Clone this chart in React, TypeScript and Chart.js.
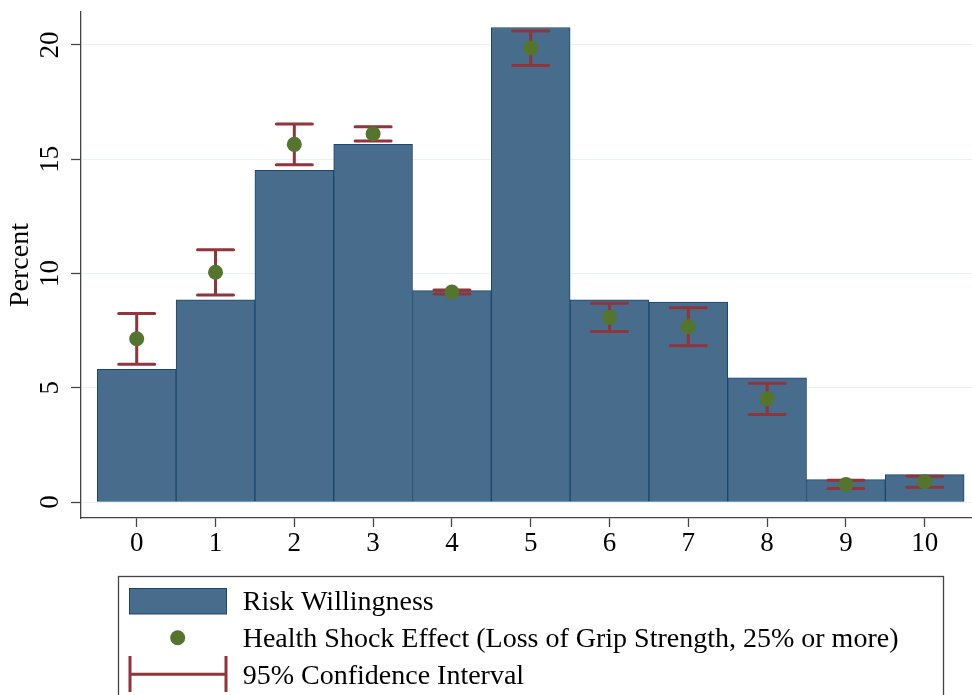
import React, { useEffect, useRef } from 'react';
import { Chart, registerables } from 'chart.js';

Chart.register(...registerables);

// ---- data ----
const categories = [0, 1, 2, 3, 4, 5, 6, 7, 8, 9, 10];
const riskWillingness = [5.8, 8.85, 14.51, 15.65, 9.25, 20.76, 8.85, 8.75, 5.43, 0.98, 1.2];
const healthShockEffect = [7.14, 10.05, 15.65, 16.11, 9.19, 19.87, 8.08, 7.67, 4.52, 0.77, 0.89];
const ciLower = [6.03, 9.06, 14.76, 15.8, 9.1, 19.1, 7.46, 6.84, 3.83, 0.59, 0.65];
const ciUpper = [8.25, 11.04, 16.54, 16.42, 9.28, 20.61, 8.7, 8.5, 5.2, 0.95, 1.13];
const yTicks = [0, 5, 10, 15, 20];
const xTicks = [0, 1, 2, 3, 4, 5, 6, 7, 8, 9, 10];
const barLabel = 'Risk Willingness';
const pointLabel = 'Health Shock Effect (Loss of Grip Strength, 25% or more)';
const ciLabel = '95% Confidence Interval';
const yTitle = 'Percent';

// ---- styles ----
const FONT = '"Liberation Serif", "Times New Roman", serif';
const BAR_FILL = '#486c8c';
const BAR_BORDER = '#1a476f';
const POINT_COLOR = '#55752f';
const CI_COLOR = '#90353b';
const AXIS_COLOR = '#444444';
const GRID_COLOR = '#eaf2f3';

export default function App() {
  const ref = useRef<HTMLCanvasElement>(null);

  useEffect(() => {
    document.body.style.margin = '0';
    const canvas = ref.current;
    if (!canvas) return;

    const ciPlugin = {
      id: 'ciPlugin',
      afterDatasetDraw(chart: any, args: any) {
        if (args.index !== 0) return;
        const { ctx, scales } = chart;
        const x = scales.x;
        const y = scales.y;
        ctx.save();
        ctx.strokeStyle = CI_COLOR;
        ctx.lineWidth = 3;
        ctx.lineCap = 'round';
        categories.forEach((c, i) => {
          const px = x.getPixelForValue(c);
          const lo = y.getPixelForValue(ciLower[i]);
          const hi = y.getPixelForValue(ciUpper[i]);
          ctx.beginPath();
          ctx.moveTo(px, lo);
          ctx.lineTo(px, hi);
          ctx.moveTo(px - 18, lo);
          ctx.lineTo(px + 18, lo);
          ctx.moveTo(px - 18, hi);
          ctx.lineTo(px + 18, hi);
          ctx.stroke();
        });
        ctx.restore();
      },
    };

    const legendPlugin = {
      id: 'boxLegend',
      afterDraw(chart: any) {
        const { ctx } = chart;
        const ds = chart.data.datasets;
        ctx.save();
        // frame
        ctx.strokeStyle = AXIS_COLOR;
        ctx.lineWidth = 1.3;
        ctx.strokeRect(118.5, 576.5, 825, 160);
        // bar swatch
        ctx.fillStyle = BAR_FILL;
        ctx.fillRect(129.5, 588.5, 97, 25.5);
        ctx.strokeStyle = BAR_BORDER;
        ctx.lineWidth = 1;
        ctx.strokeRect(129.5, 588.5, 97, 25.5);
        // point swatch
        ctx.fillStyle = POINT_COLOR;
        ctx.beginPath();
        ctx.arc(177.7, 637.7, 7.5, 0, Math.PI * 2);
        ctx.fill();
        // CI swatch
        ctx.strokeStyle = CI_COLOR;
        ctx.lineWidth = 3;
        ctx.lineCap = 'butt';
        ctx.beginPath();
        ctx.moveTo(130, 674.3);
        ctx.lineTo(226, 674.3);
        ctx.moveTo(130, 656);
        ctx.lineTo(130, 692);
        ctx.moveTo(226, 656);
        ctx.lineTo(226, 692);
        ctx.stroke();
        // texts
        ctx.fillStyle = '#000';
        ctx.font = `28px ${FONT}`;
        ctx.textAlign = 'left';
        ctx.textBaseline = 'alphabetic';
        ctx.fillText(ds[0].label, 242.7, 610);
        ctx.fillText(ds[1].label, 242.7, 647);
        ctx.fillText(ciLabel, 242.7, 683.5);
        ctx.restore();
      },
    };

    const chart = new Chart(canvas, {
      type: 'bar',
      data: {
        datasets: [
          {
            type: 'bar',
            label: barLabel,
            order: 2,
            data: categories.map((c, i) => ({ x: c, y: riskWillingness[i] })),
            backgroundColor: BAR_FILL,
            borderColor: BAR_BORDER,
            borderWidth: 1,
            borderSkipped: false,
            barPercentage: 1,
            categoryPercentage: 1,
          } as any,
          {
            type: 'scatter',
            label: pointLabel,
            order: 1,
            data: categories.map((c, i) => ({ x: c, y: healthShockEffect[i] })),
            backgroundColor: POINT_COLOR,
            borderWidth: 0,
            pointRadius: 7.5,
            pointHoverRadius: 7.5,
          } as any,
        ],
      },
      options: {
        animation: false,
        responsive: false,
        devicePixelRatio: 1,
        layout: { autoPadding: false, padding: { top: 12, left: 0, right: 0, bottom: 0 } },
        plugins: {
          legend: { display: false },
          tooltip: { enabled: false },
        },
        scales: {
          x: {
            type: 'linear',
            offset: false,
            min: -0.707,
            max: 10.6,
            afterBuildTicks: (s: any) => {
              s.ticks = xTicks.map((v) => ({ value: v }));
            },
            afterFit: (s: any) => {
              s.height = 177;
              s.paddingLeft = 0;
              s.paddingRight = 0;
            },
            grid: {
              offset: false,
              drawOnChartArea: false,
              drawTicks: true,
              tickLength: 9,
              tickColor: AXIS_COLOR,
              tickWidth: 1.3,
            },
            border: { display: true, color: AXIS_COLOR, width: 1.3 },
            ticks: {
              font: { family: FONT, size: 27 },
              color: '#000',
              padding: 1,
              autoSkip: false,
              maxRotation: 0,
              minRotation: 0,
            },
          },
          y: {
            type: 'linear',
            min: -0.7,
            max: 21.44,
            afterBuildTicks: (s: any) => {
              s.ticks = yTicks.map((v) => ({ value: v }));
            },
            afterFit: (s: any) => {
              s.width = 81;
              s.paddingTop = 0;
              s.paddingBottom = 0;
            },
            grid: {
              color: GRID_COLOR,
              lineWidth: 1,
              tickColor: AXIS_COLOR,
              tickLength: 10,
              tickWidth: 1.3,
            },
            border: { display: true, color: AXIS_COLOR, width: 1.3 },
            ticks: {
              font: { family: FONT, size: 27 },
              color: '#000',
              padding: 7,
              minRotation: 90,
              maxRotation: 90,
              crossAlign: 'center',
            },
            title: {
              display: true,
              text: yTitle,
              font: { family: FONT, size: 28 },
              color: '#000',
              padding: { top: 4, bottom: 0 },
            },
          },
        },
      } as any,
      plugins: [ciPlugin, legendPlugin],
    });

    return () => {
      chart.destroy();
    };
  }, []);

  return (
    <div style={{ position: 'absolute', left: 0, top: 0, width: 972, height: 695, background: '#fff' }}>
      <canvas ref={ref} width={972} height={695} style={{ display: 'block', width: 972, height: 695 }} />
    </div>
  );
}
